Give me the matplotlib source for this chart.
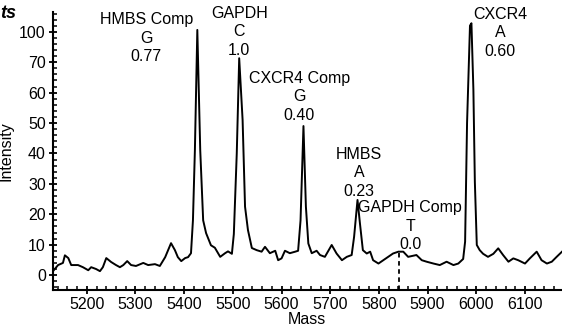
import matplotlib
matplotlib.use('Agg')
import matplotlib.pyplot as plt
import numpy as np
from matplotlib.ticker import MultipleLocator

plt.rcParams['font.family'] = ['Liberation Sans', 'DejaVu Sans']

# spectrum trace (mass, intensity)
mass = [5129, 5141, 5151, 5155, 5162, 5168, 5182, 5192, 5203, 5209,
        5219, 5227, 5233, 5240, 5250, 5260, 5268, 5275, 5283, 5291,
        5301, 5316, 5326, 5340, 5350, 5361, 5373, 5381, 5387, 5394,
        5402, 5408, 5414, 5418, 5422, 5427, 5433, 5439, 5445, 5455,
        5463, 5474, 5484, 5490, 5498, 5502, 5508, 5513, 5520, 5525,
        5531, 5539, 5549, 5559, 5566, 5576, 5587, 5593, 5600, 5607,
        5617, 5628, 5634, 5639, 5645, 5650, 5655, 5662, 5672, 5679,
        5689, 5703, 5713, 5724, 5734, 5744, 5749, 5756, 5761, 5767,
        5775, 5782, 5788, 5799, 5809, 5819, 5829, 5840, 5850, 5860,
        5877, 5888, 5898, 5912, 5925, 5939, 5953, 5963, 5973, 5977,
        5981, 5987, 5990, 5994, 5997, 6001, 6007, 6014, 6024, 6035,
        6045, 6055, 6066, 6076, 6086, 6100, 6110, 6124, 6134, 6145,
        6155, 6165, 6176]
intensity = [1.0, 3.3, 4.0, 6.5, 5.6, 3.3, 3.3, 2.6, 1.6, 2.6,
             2.0, 1.3, 2.6, 5.6, 4.3, 3.3, 2.6, 3.3, 4.6, 3.3,
             3.0, 4.0, 3.3, 3.6, 3.0, 5.9, 10.5, 8.2, 5.9, 4.6,
             5.6, 5.9, 7.2, 18, 41, 80.6, 41, 18, 13.8, 9.8,
             9.0, 6.0, 7.2, 7.8, 7.0, 13.5, 40, 71.3, 51, 22.5,
             14.8, 8.9, 8.2, 7.7, 9.3, 7.2, 8.0, 4.9, 5.5, 8.0,
             7.2, 7.7, 8.0, 18, 49, 22.5, 10.4, 7.2, 8.0, 6.6,
             6.0, 9.9, 7.1, 4.9, 6.0, 6.6, 12.6, 24.7, 17, 8.2,
             7.1, 7.7, 4.9, 3.8, 4.9, 6.0, 7.1, 7.7, 7.7, 6.0,
             6.6, 4.9, 4.4, 3.8, 3.3, 4.4, 3.3, 3.8, 5.3, 11,
             50, 82, 82.8, 61, 30.7, 9.9, 8.2, 7.0, 6.0, 7.0,
             8.8, 6.6, 4.4, 5.5, 4.9, 3.8, 5.5, 7.7, 4.9, 3.8,
             4.4, 6.0, 7.7]

# peak annotations: text, mass, intensity of middle line
peak_labels = ['HMBS Comp\nG\n0.77', 'GAPDH\nC\n1.0', 'CXCR4 Comp\nG\n0.40',
               'HMBS\nA\n0.23', 'GAPDH Comp\nT\n0.0', 'CXCR4\nA\n0.60']
label_mass = [5322, 5513, 5636, 5759, 5864, 6049]
label_int = [77.9, 80.0, 58.6, 33.6, 16.1, 79.6]

# dashed marker for the missing GAPDH Comp peak
marker_mass = 5841
marker_top = 7.7

ytick_pos = [0, 10, 20, 30, 40, 50, 60, 70, 80]
ytick_lab = ['0', '10', '20', '30', '40', '50', '60', '70', '100']

fig = plt.figure(figsize=(5.62, 3.30), dpi=100)
ax = fig.add_axes([0.0938, 0.1212, 0.9062, 0.8434])

ax.plot(mass, intensity, color='black', linewidth=1.4)
ax.plot([marker_mass, marker_mass], [-4.9, marker_top], color='black',
        linewidth=1.3, linestyle=(0, (2.5, 2)))

for txt, mx, my in zip(peak_labels, label_mass, label_int):
    ax.text(mx, my, txt, ha='center', va='center', fontsize=11.5,
            linespacing=1.3, multialignment='center')

ax.set_xlim(5130, 6176)
ax.set_ylim(-4.9, 86.6)
ax.set_yticks(ytick_pos)
ax.set_yticklabels(ytick_lab)
ax.xaxis.set_major_locator(MultipleLocator(100))
ax.xaxis.set_minor_locator(MultipleLocator(20))
ax.yaxis.set_minor_locator(MultipleLocator(2))

ax.spines['top'].set_visible(False)
ax.spines['right'].set_visible(False)
ax.spines['left'].set_linewidth(1.5)
ax.spines['bottom'].set_linewidth(1.5)
ax.tick_params(which='major', direction='inout', length=6, width=1.3,
               labelsize=11.5, pad=2)
ax.tick_params(which='minor', direction='in', length=3, width=1.1)

ax.set_xlabel('Mass', fontsize=11.5, labelpad=0)
ax.set_ylabel('Intensity', fontsize=11.5, labelpad=4)

fig.text(0.0, 0.985, 'ts', fontsize=13, fontweight='bold', fontstyle='italic',
         ha='left', va='top')

fig.savefig('out.png', dpi=100)
